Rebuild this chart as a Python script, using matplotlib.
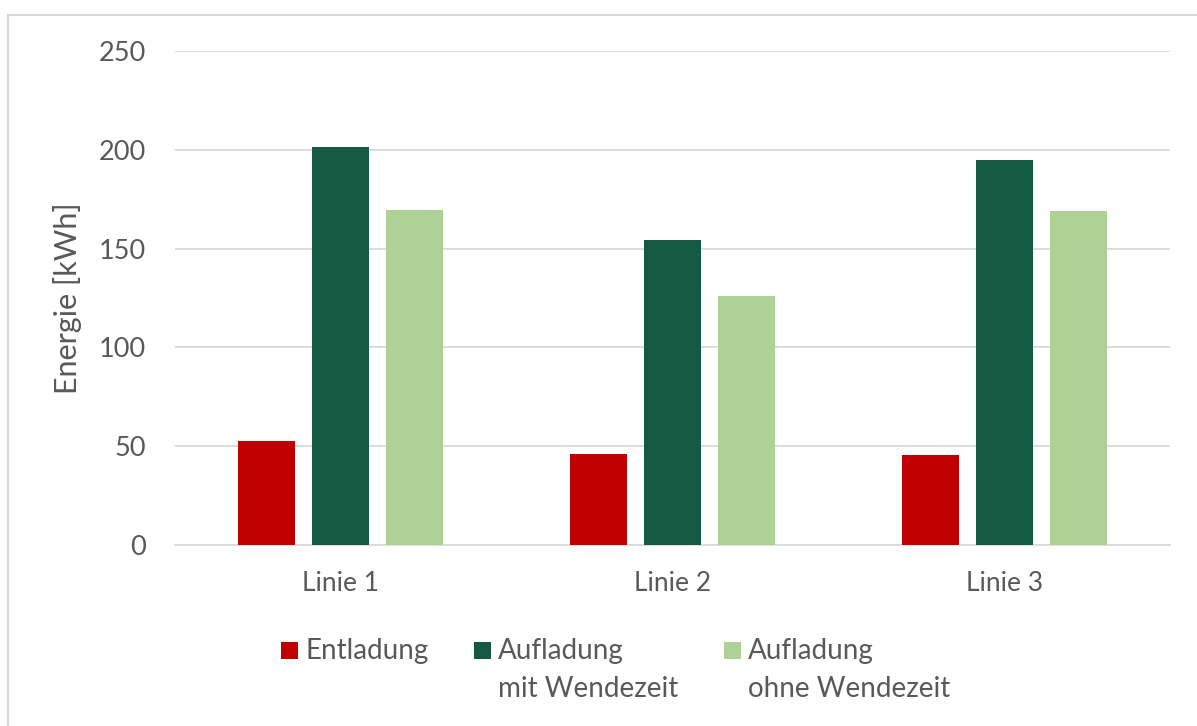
import matplotlib.pyplot as plt
from matplotlib.patches import Rectangle
import numpy as np

plt.rcParams['font.family'] = ['Lato', 'DejaVu Sans']

# data
categories = ["Linie 1", "Linie 2", "Linie 3"]
series_names = ["Entladung", "Aufladung\nmit Wendezeit", "Aufladung\nohne Wendezeit"]
entladung = [52.5, 46.0, 45.5]
mit_wendezeit = [201.3, 154.4, 194.8]
ohne_wendezeit = [169.4, 126.0, 169.0]
colors = ["#C00000", "#145A42", "#AED296"]

text_col = "#595959"
grid_col = "#D9D9D9"

fig = plt.figure(figsize=(11.97, 7.26), dpi=100)
ax = fig.add_axes([175 / 1197, 1 - 545 / 726, 995 / 1197, 494 / 726])

x = np.arange(len(categories))
pitch = 0.223
width = 0.172
all_series = [entladung, mit_wendezeit, ohne_wendezeit]
for i, (vals, col) in enumerate(zip(all_series, colors)):
    ax.bar(x + (i - 1) * pitch, vals, width, color=col, zorder=3)

ax.set_xlim(-0.5, 2.5)
ax.set_ylim(0, 250)
ax.set_yticks(range(0, 251, 50))
ax.set_xticks(x)
ax.set_xticklabels(categories)
ax.grid(axis='y', color=grid_col, linewidth=1.3, zorder=0)
for s in ['top', 'right', 'left']:
    ax.spines[s].set_visible(False)
ax.spines['bottom'].set_color(grid_col)
ax.spines['bottom'].set_linewidth(1.3)
ax.tick_params(axis='y', length=0, labelsize=19.5, colors=text_col, pad=21)
ax.tick_params(axis='x', length=0, labelsize=19, colors=text_col, pad=19)
ax.set_ylabel("Energie [kWh]", fontsize=22, color=text_col, labelpad=12)

# legend drawn by hand so the swatch sits on the first text line
leg_x = [281, 474, 724]
for name, col, lx in zip(series_names, colors, leg_x):
    fig.patches.append(Rectangle((lx / 1197, 1 - 659 / 726), 17 / 1197, 17 / 726,
                                 transform=fig.transFigure, facecolor=col, edgecolor='none'))
    fig.text((lx + 24) / 1197, 1 - 638 / 726, name, fontsize=20, color=text_col,
             va='top', ha='left', linespacing=1.55)

# chart border (only left and top edges are visible in the reference)
fig.patches.append(Rectangle((8 / 1197, -0.1), 1.2, 1 - 15 / 726 + 0.1,
                             transform=fig.transFigure, fill=False,
                             edgecolor=grid_col, linewidth=1.5))

fig.savefig("out.png", dpi=100)
